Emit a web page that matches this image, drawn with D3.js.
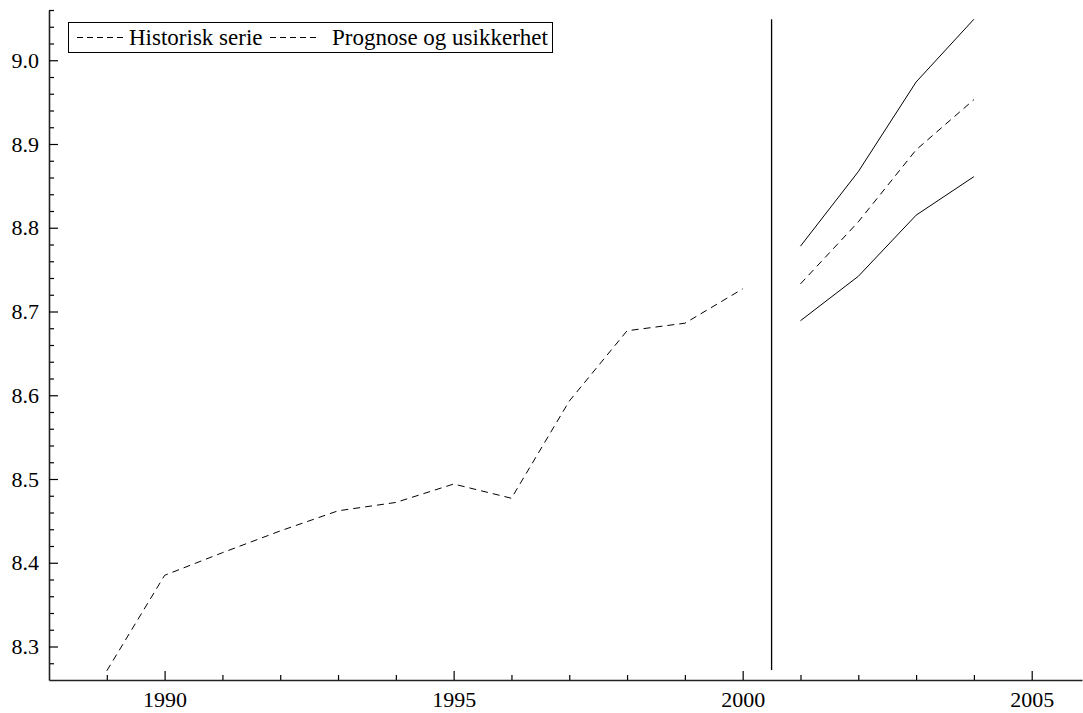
<!DOCTYPE html>
<html>
<head>
<meta charset="utf-8">
<script src="https://cdn.jsdelivr.net/npm/d3@7"></script>
<style>
  body { margin: 0; background: #fff; }
  svg { display: block; }
  text { font-family: "Liberation Serif", "DejaVu Serif", serif; fill: #000; }
</style>
</head>
<body>
<svg class="chart" width="1083" height="713"></svg>
<script>
// historisk serie
const histYears = [1989, 1990, 1991, 1992, 1993, 1994, 1995, 1996, 1997, 1998, 1999, 2000];
const histValues = [8.271, 8.385, 8.412, 8.438, 8.462, 8.472, 8.494, 8.477, 8.593, 8.677, 8.686, 8.727];

// prognose med usikkerhet
const fcYears = [2001, 2002, 2003, 2004];
const fcMid = [8.733, 8.807, 8.893, 8.953];
const fcUpper = [8.778, 8.867, 8.974, 9.049];
const fcLower = [8.689, 8.742, 8.815, 8.861];

// skillelinje
const splitYear = 2000.5;
const splitRange = [8.272, 9.049];

const xMajor = [1990, 1995, 2000, 2005];
const yMajor = [8.3, 8.4, 8.5, 8.6, 8.7, 8.8, 8.9, 9.0];
const legendLabels = ["Historisk serie", "Prognose og usikkerhet"];

window.onload = function() {
  let svg = d3.select('.chart');
  let x = d3.scaleLinear().domain([1988, 2005.87]).range([49, 1082]);
  let y = d3.scaleLinear().domain([8.26, 9.06]).range([680, 10]);
  let serif = '"Liberation Serif", "DejaVu Serif", serif';

  let xMinor = d3.range(1989, 2006).filter(function(d) { return xMajor.indexOf(d) < 0; });
  let yMinor = d3.range(0, 41).map(function(i) { return +(8.26 + i*0.02).toFixed(2); })
    .filter(function(d) { return yMajor.every(function(m) { return Math.abs(m - d) > 1e-6; }) && d > 8.26; });

  // minor ticks
  svg.append('g').attr('transform', 'translate(0,680)')
    .call(d3.axisBottom(x).tickValues(xMinor).tickSize(-5).tickFormat(''))
    .call(function(g) { g.select('.domain').remove(); });
  svg.append('g').attr('transform', 'translate(49,0)')
    .call(d3.axisLeft(y).tickValues(yMinor).tickSize(-5).tickFormat(''))
    .call(function(g) { g.select('.domain').remove(); });

  // major ticks + labels
  let xAxis = svg.append('g').attr('transform', 'translate(0,680)')
    .call(d3.axisBottom(x).tickValues(xMajor).tickSize(-9).tickSizeOuter(0).tickPadding(11).tickFormat(d3.format('d')));
  let yAxis = svg.append('g').attr('transform', 'translate(49,0)')
    .call(d3.axisLeft(y).tickValues(yMajor).tickSize(-9).tickSizeOuter(0).tickPadding(10).tickFormat(d3.format('.1f')));

  [xAxis, yAxis].forEach(function(g) {
    g.attr('font-family', serif).attr('font-size', 22);
    g.selectAll('text').attr('font-family', serif).attr('font-size', 22)
      .style('font-family', serif).style('font-size', '22px').attr('fill', '#000');
    g.select('.domain').attr('stroke', '#222').attr('stroke-width', 1.6);
  });
  svg.selectAll('.tick line').attr('stroke', '#000').attr('stroke-width', 1.2);

  let line = d3.line()
    .x(function(d) { return x(d[0]); })
    .y(function(d) { return y(d[1]); });

  function series(years, values, dashed) {
    svg.append('path')
      .attr('d', line(d3.zip(years, values)))
      .attr('fill', 'none')
      .attr('stroke', '#000')
      .attr('stroke-width', 1)
      .attr('stroke-dasharray', dashed ? '7,5' : null);
  }
  series(histYears, histValues, true);
  series(fcYears, fcMid, true);
  series(fcYears, fcUpper, false);
  series(fcYears, fcLower, false);

  svg.append('line')
    .attr('x1', x(splitYear)).attr('x2', x(splitYear))
    .attr('y1', y(splitRange[0])).attr('y2', y(splitRange[1]))
    .attr('stroke', '#000').attr('stroke-width', 1.3);

  // legend
  let lg = svg.append('g');
  lg.append('rect')
    .attr('x', 68.5).attr('y', 22.5).attr('width', 484).attr('height', 30)
    .attr('fill', '#fff').attr('stroke', '#000').attr('stroke-width', 1);
  let items = [[77, 129], [270, 332]];
  legendLabels.forEach(function(t, i) {
    lg.append('line')
      .attr('x1', items[i][0]).attr('x2', items[i][0] + 49)
      .attr('y1', 37.5).attr('y2', 37.5)
      .attr('stroke', '#000').attr('stroke-width', 1)
      .attr('stroke-dasharray', '6,4');
    lg.append('text')
      .attr('x', items[i][1]).attr('y', 45)
      .attr('font-family', serif)
      .style('font-size', '23px')
      .text(t);
  });
};
</script>
</body>
</html>
